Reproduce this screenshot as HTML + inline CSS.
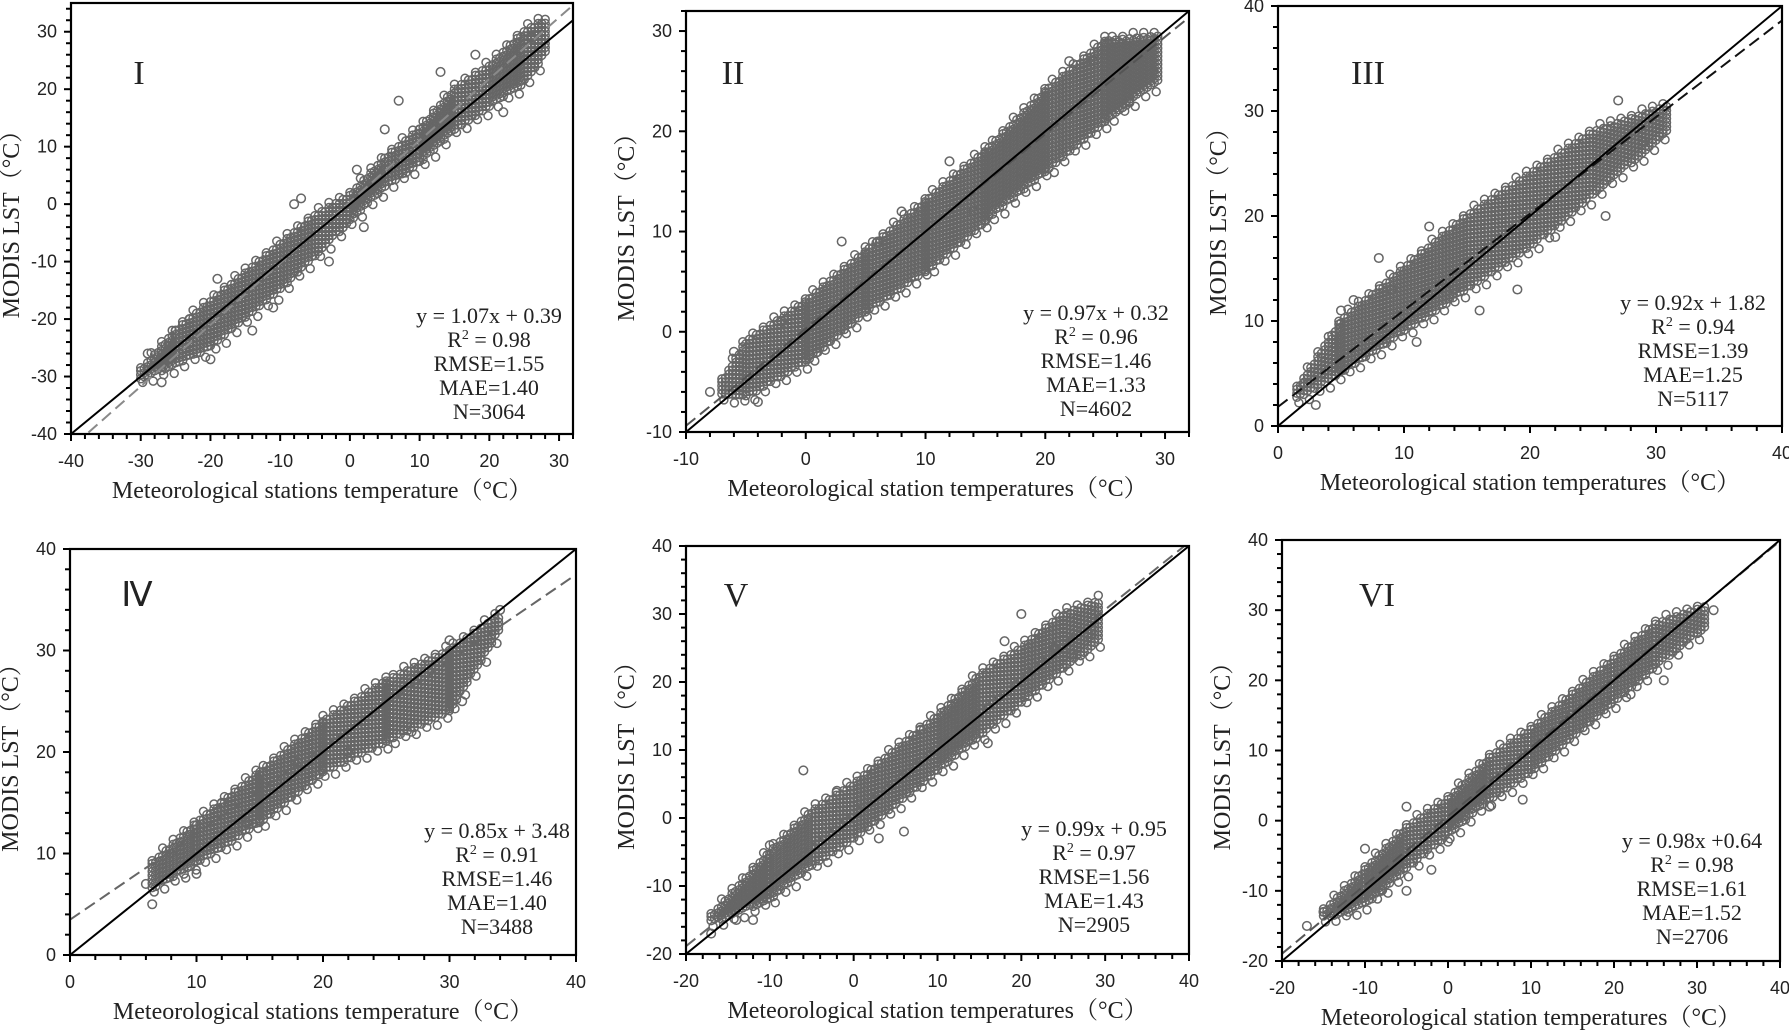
<!DOCTYPE html>
<html><head><meta charset="utf-8">
<style>
html,body{margin:0;padding:0;background:#fff;}
svg{display:block;}
.tk{font-family:"Liberation Sans",sans-serif;font-size:18px;fill:#222;}
.ti{font-family:"Liberation Serif","Noto Serif CJK SC",serif;font-size:24px;fill:#222;}
.st{font-family:"Liberation Serif",serif;font-size:22px;fill:#222;}
.pl{font-family:"Liberation Serif",serif;font-size:34px;fill:#222;}
</style></head>
<body>
<svg id="fig" width="1789" height="1032" viewBox="0 0 1789 1032" xmlns="http://www.w3.org/2000/svg"></svg>
<script>
// ---- data ----
const panelLabels = ["I","II","III","Ⅳ","V","VI"];
const xDomains = [[-40,32],[-10,32],[0,40],[0,40],[-20,40],[-20,40]];
const yDomains = [[-40,35],[-10,32],[0,40],[0,40],[-20,40],[-20,40]];
const slopes = [1.07,0.97,0.92,0.85,0.99,0.98];
const intercepts = [0.39,0.32,1.82,3.48,0.95,0.64];
const regStart = [-37.5,-10,0,0,-20,-20];
const statsR2 = ["0.98","0.96","0.94","0.91","0.97","0.98"];
const statsRMSE = ["1.55","1.46","1.39","1.46","1.56","1.61"];
const statsMAE = ["1.40","1.33","1.25","1.40","1.43","1.52"];
const statsN = ["3064","4602","5117","3488","2905","2706"];
const eqText = ["y = 1.07x + 0.39","y = 0.97x + 0.32","y = 0.92x + 1.82","y = 0.85x + 3.48","y = 0.99x + 0.95","y = 0.98x +0.64"];
const xTitles = ["Meteorological stations temperature（°C）","Meteorological station temperatures（°C）","Meteorological station temperatures（°C）","Meteorological stations temperature（°C）","Meteorological station temperatures（°C）","Meteorological station temperatures（°C）"];
// scatter band (x, low y, high y)
const bandX = [
 [-30,-25,-20,-15,-10,-5,0,5,10,15,20,25,28.5],
 [-7,-5,0,5,10,15,20,25,29.5],
 [1.5,5,10,15,20,25,31],
 [6.5,10,15,20,25,30,34],
 [-17,-10,-5,0,5,10,15,20,25,29.5],
 [-15,-10,-5,0,5,10,15,20,25,31]];
const bandLo = [
 [-30.5,-28,-25,-20,-15,-9,-3,3,7,13,17,21,27],
 [-6.5,-6.5,-3,2,6,11,16,21,25],
 [2.5,5,9,13,17,22,28],
 [6.5,9,13,18,21,24,32],
 [-15.5,-12,-7,-3,2,7,12,17,22,26],
 [-14,-12,-7,-2,3,7,12,17,22,27.5]];
const bandHi = [
 [-29,-22,-17,-12,-7,-2,1.5,8,13,20,24,30,32.5],
 [-5,-1,3,8,13,18,24,29,29.5],
 [3.5,10,15,20,24,28,30.5],
 [9,13,18,23,27,30,33.5],
 [-14.5,-5,1,5,10,15,21,25,30,32],
 [-13,-7,-1,3,9,13,18,23,28,30.5]];
// outliers
const outX = [
 [-29,-27,-23,-19,-20,-8,-7,-3,-2,1,2,5,7,9,17,18,27,-25,-14,-11,10,13,22,26],
 [-8,-6,-2,3,8,12,18,22,27,29,-4,1,6,14,19,24],
 [2,3,4,6,8,12,14,19,26,29,5,9,11,16,22,27],
 [6,6.5,8,10,12,18,30,32,34,9,14,22,27,31],
 [-17,-14,-10,-6,3,8,16,20,24,28,-12,-2,6,12,18,26],
 [-17,-15,-10,-8,-5,-5,-2,9,19,22,26,32,-12,0,5,14]];
const outY = [
 [-26,-31,-20,-13,-27,0,1,-10,-4,6,-4,13,18,8,16,26,30,-22,-22,-18,13,23,16,29],
 [-6,-2,1,9,12,17,16,27,23,26,-7,-2,9,12,16,27],
 [4,2,6,12,16,19,13,13,20,27,11,13,8,11,18,31],
 [7,5,10,8,15,19,31,31,34,8,13,20,22,25],
 [-17,-15,-4,7,-3,13,11,30,25,27,-15,4,-2,15,26,24],
 [-15,-13,-4,-10,2,-10,-7,3,17,18,20,30,-13,-3,2,15]];
// layout
const boxes = [[71,3,573,434],[686,11,1189,432],[1278,6,1782,426],[70,549,576,955],[686,546,1189,954],[1282,540,1780,961]];
const labelPos = [[139,84],[733,84],[1368,84],[137,606],[736,606],[1377,606]];
const statsCenter = [[489,323],[1096,320],[1693,310],[497,838],[1094,836],[1692,848]];
const regColor = ["#8a8a8a","#555","#111","#666","#666","#555"];

const NS="http://www.w3.org/2000/svg";
const fig=document.getElementById('fig');
function mk(tag,attrs,parent){const e=document.createElementNS(NS,tag);for(const k in attrs)e.setAttribute(k,attrs[k]);(parent||fig).appendChild(e);return e;}

for(let p=0;p<6;p++){
  const [L,T,R,B]=boxes[p];
  const [x0,x1]=xDomains[p],[y0,y1]=yDomains[p];
  const sx=v=>L+(v-x0)/(x1-x0)*(R-L);
  const sy=v=>B-(v-y0)/(y1-y0)*(B-T);
  const g=mk('g',{});
  
  
  const clip=mk('clipPath',{id:'c'+p},g);mk('rect',{x:L,y:T,width:R-L,height:B-T},clip);
  const pts=mk('g',{'clip-path':'url(#c'+p+')',fill:'none',stroke:'#666','stroke-width':'1.5'},g);
  
  
  const bx=bandX[p],lo=bandLo[p],hi=bandHi[p];
  let col=0;
  for(let i=0;i<bx.length-1;i++){
    const pxa=sx(bx[i]),pxb=sx(bx[i+1]);
    for(let px=pxa;px<pxb;px+=3.5,col++){
      const t=(px-pxa)/(pxb-pxa);
      const l=sy(lo[i]+t*(lo[i+1]-lo[i])),h=sy(hi[i]+t*(hi[i+1]-hi[i]));
      const off=(col%2)*2;
      for(let py=h+off;py<=l;py+=4){
        const c=mk('circle',{cx:px.toFixed(1),cy:py.toFixed(1),r:4},pts);
        
        
      }
      if(col%3===0){
        const e1=mk('circle',{cx:px.toFixed(1),cy:(h-3-(col%4)).toFixed(1),r:4},pts);
        
        
        const e2=mk('circle',{cx:(px+2).toFixed(1),cy:(l+3+(col%5)).toFixed(1),r:4},pts);
        
        
      }
    }
  }
  for(let i=0;i<outX[p].length;i++){
    const c=mk('circle',{cx:sx(outX[p][i]),cy:sy(outY[p][i]),r:4.3},pts);
    
    
  }
  const lines=mk('g',{'clip-path':'url(#c'+p+')'},g);
  const rs=regStart[p],re=x1;
  const reg=mk('line',{x1:sx(rs),y1:sy(slopes[p]*rs+intercepts[p]),x2:sx(re),y2:sy(slopes[p]*re+intercepts[p]),stroke:regColor[p],'stroke-width':2,'stroke-dasharray':'12,6'},lines);
  
  
  const l1=Math.max(x0,y0),l2=Math.min(x1,y1);
  const one=mk('line',{x1:sx(l1),y1:sy(l1),x2:sx(l2),y2:sy(l2),stroke:'#000','stroke-width':2},lines);
  
  
  const fr=mk('rect',{x:L,y:T,width:R-L,height:B-T,fill:'none',stroke:'#000','stroke-width':2.2},g);
  
  
  for(let v=Math.ceil(x0/2)*2;v<=x1;v+=2){
    const maj=v%10===0;
    mk('line',{x1:sx(v),y1:B,x2:sx(v),y2:B+(maj?7:5),stroke:'#000','stroke-width':2},g);
    if(maj){const t=mk('text',{x:sx(v),y:B+33,'text-anchor':'middle',class:'tk'},g);t.textContent=v;
      }
  }
  for(let v=Math.ceil(y0/2)*2;v<=y1;v+=2){
    const maj=v%10===0;
    mk('line',{x1:L,y1:sy(v),x2:L-(maj?7:5),y2:sy(v),stroke:'#000','stroke-width':2},g);
    if(maj){const t=mk('text',{x:L-14,y:sy(v)+6,'text-anchor':'end',class:'tk'},g);t.textContent=v;
      }
  }
  const xt=mk('text',{x:(L+R)/2,y:B+64,'text-anchor':'middle',class:'ti'},g);xt.textContent=xTitles[p];
  
  const yx=L-52,yy=(T+B)/2;
  const yt=mk('text',{x:yx,y:yy,'text-anchor':'middle',class:'ti',transform:`rotate(-90 ${yx} ${yy})`},g);yt.textContent="MODIS LST（°C）";
  
  const pl=mk('text',{x:labelPos[p][0],y:labelPos[p][1],'text-anchor':'middle',class:'pl'},g);pl.textContent=panelLabels[p];
  
  const [cx,cy]=statsCenter[p];
  const st=mk('text',{class:'st','text-anchor':'middle'},g);
  
  const lines2=[eqText[p],null,"RMSE="+statsRMSE[p],"MAE="+statsMAE[p],"N="+statsN[p]];
  lines2.forEach((s,i)=>{
    const ts=mk('tspan',{x:cx,y:cy+i*24},st);
    if(s===null){ts.textContent="R";const sup=mk('tspan',{dy:-8,'font-size':'14'},st);sup.textContent="2";const r=mk('tspan',{dy:8},st);r.textContent=" = "+statsR2[p];}
    else ts.textContent=s;
  });
}
</script>
</body></html>
